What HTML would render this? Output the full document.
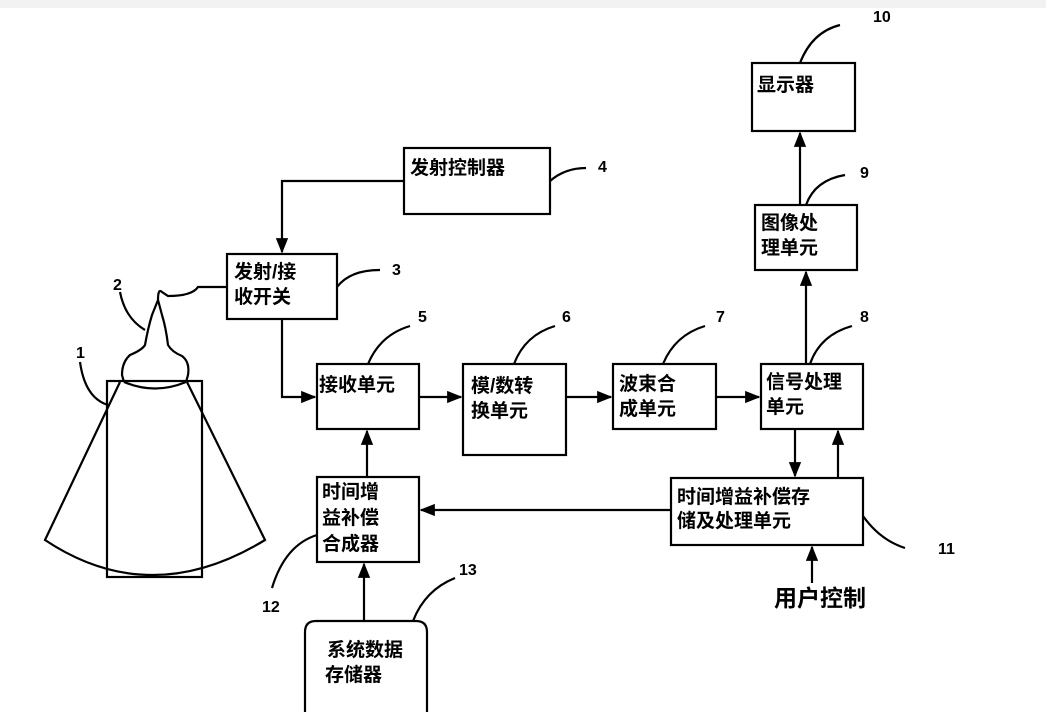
<!DOCTYPE html>
<html><head><meta charset="utf-8"><style>
html,body{margin:0;padding:0;background:#fff}
svg text{font-family:"Liberation Sans","Noto Sans CJK SC",sans-serif;font-weight:bold;fill:#000}
</style></head><body>
<svg width="1046" height="712" viewBox="0 0 1046 712" xmlns="http://www.w3.org/2000/svg">
<defs><marker id="a" viewBox="0 0 10 10" refX="9" refY="5" markerWidth="7" markerHeight="7" orient="auto"><path d="M0,1 L10,5 L0,9 z" fill="#000"/></marker></defs>
<rect x="0" y="0" width="1046" height="8" fill="#f2f2f2"/>
<g fill="none" stroke="#000" stroke-width="2.2">
<rect x="404" y="148" width="146" height="66"/>
<rect x="227" y="254" width="110" height="65"/>
<rect x="317" y="364" width="102" height="65"/>
<rect x="463" y="364" width="103" height="91"/>
<rect x="613" y="364" width="103" height="65"/>
<rect x="761" y="364" width="102" height="65"/>
<rect x="671" y="478" width="192" height="67"/>
<rect x="317" y="477" width="102" height="85"/>
<path d="M305,716 L305,632 Q305,621 316,621 L416,621 Q427,621 427,632 L427,716"/>
<rect x="755" y="205" width="102" height="65"/>
<rect x="752" y="63" width="103" height="68"/>
<path d="M404,181 L282,181 L282,252" marker-end="url(#a)"/>
<path d="M282,319 L282,397 L315,397" marker-end="url(#a)"/>
<path d="M419,397 L461,397" marker-end="url(#a)"/>
<path d="M566,397 L611,397" marker-end="url(#a)"/>
<path d="M716,397 L759,397" marker-end="url(#a)"/>
<path d="M806,364 L806,272" marker-end="url(#a)"/>
<path d="M800,205 L800,133" marker-end="url(#a)"/>
<path d="M795,429 L795,476" marker-end="url(#a)"/>
<path d="M838,478 L838,431" marker-end="url(#a)"/>
<path d="M671,510 L421,510" marker-end="url(#a)"/>
<path d="M367,477 L367,431" marker-end="url(#a)"/>
<path d="M364,621 L364,564" marker-end="url(#a)"/>
<path d="M812,583 L812,547" marker-end="url(#a)"/>
<path d="M227,287 L198,287 Q192,296 168,296 L162,292 Q158,288 158,300 L152,315 Q148,328 145,345 Q142,350 130,355 Q122,362 122,375 L124,382"/>
<path d="M158,300 L162,315 Q166,328 168,345 Q172,352 182,356 Q190,362 188,375 L186,382"/>
<path d="M124,382 Q155,395 186,382"/>
<rect x="107" y="381" width="95" height="196"/>
<path d="M120,382 L45,540 Q150,610 265,540 L187,382"/>
<path d="M108,405 Q85,398 80,362"/>
<path d="M145,330 Q125,318 120,292"/>
<path d="M337,287 Q350,270 380,270"/>
<path d="M550,181 Q565,168 586,168"/>
<path d="M368,364 Q380,335 410,326"/>
<path d="M514,364 Q525,335 555,326"/>
<path d="M663,364 Q675,335 705,326"/>
<path d="M810,364 Q820,335 852,326"/>
<path d="M806,205 Q815,180 845,175"/>
<path d="M800,63 Q812,32 840,25"/>
<path d="M863,516 Q880,540 905,548"/>
<path d="M317,535 Q285,545 272,588"/>
<path d="M413,621 Q425,590 455,578"/>
</g>
<g font-size="19">
<text x="410" y="174">发射控制器</text>
<text x="234" y="278">发射/接</text><text x="234" y="303">收开关</text>
<text x="319" y="391">接收单元</text>
<text x="471" y="392">模/数转</text><text x="471" y="417">换单元</text>
<text x="619" y="390">波束合</text><text x="619" y="415">成单元</text>
<text x="766" y="388">信号处理</text><text x="766" y="413">单元</text>
<text x="677" y="503">时间增益补偿存</text><text x="677" y="527">储及处理单元</text>
<text x="322" y="498">时间增</text><text x="322" y="524">益补偿</text><text x="322" y="550">合成器</text>
<text x="327" y="656">系统数据</text><text x="325" y="681">存储器</text>
<text x="761" y="229">图像处</text><text x="761" y="254">理单元</text>
<text x="757" y="91">显示器</text>
</g>
<text x="774" y="606" font-size="23">用户控制</text>
<g font-size="16" font-family="Liberation Serif">
<text x="76" y="358">1</text><text x="113" y="290">2</text><text x="392" y="275">3</text>
<text x="598" y="172">4</text><text x="418" y="322">5</text><text x="562" y="322">6</text>
<text x="716" y="322">7</text><text x="860" y="322">8</text><text x="860" y="178">9</text>
<text x="873" y="22">10</text><text x="938" y="554">11</text><text x="262" y="612">12</text>
<text x="459" y="575">13</text>
</g>
</svg>
</body></html>
